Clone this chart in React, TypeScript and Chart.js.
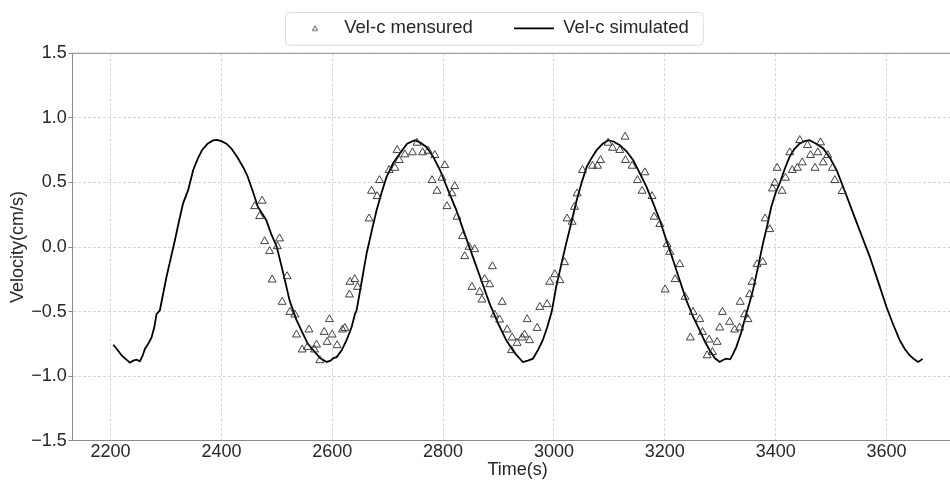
import React, { useEffect, useRef } from 'react';
import { Chart, registerables } from 'chart.js';

Chart.register(...registerables);

const measuredLabel = 'Vel-c mensured';
const simulatedLabel = 'Vel-c simulated';
const xTitle = 'Time(s)';
const yTitle = 'Velocity(cm/s)';

const simTime = [
  2205, 2213, 2220, 2228, 2235, 2241, 2247, 2253, 2258, 2262, 2268, 2274, 2279, 2283, 2289, 2295,
  2301, 2308, 2316, 2323, 2331, 2340, 2349, 2357, 2365, 2375, 2385, 2392, 2400, 2409, 2418, 2428,
  2439, 2447, 2454, 2466, 2481, 2490, 2500, 2512, 2523, 2535, 2547, 2556, 2566, 2578, 2590, 2597,
  2602, 2608, 2617, 2626, 2635, 2641, 2644, 2653, 2662, 2671, 2680, 2689, 2698, 2710, 2722, 2735,
  2749, 2758, 2770, 2782, 2794, 2809, 2824, 2839, 2854, 2869, 2884, 2899, 2914, 2929, 2944, 2953,
  2962, 2971, 2980, 2988, 2996, 3004, 3013, 3022, 3032, 3041, 3050, 3059, 3068, 3077, 3088, 3098,
  3108, 3119, 3131, 3143, 3155, 3167, 3179, 3191, 3203, 3215, 3227, 3239, 3251, 3263, 3272, 3281,
  3290, 3299, 3305, 3311, 3318, 3323, 3329, 3338, 3347, 3353, 3359, 3368, 3377, 3385, 3392, 3400,
  3407, 3416, 3425, 3434, 3443, 3452, 3461, 3473, 3486, 3498, 3510, 3525, 3540, 3555, 3570, 3585,
  3600, 3612, 3624, 3633, 3642, 3650, 3657, 3661, 3665,
];
const simVel = [
  -0.757, -0.80, -0.84, -0.87, -0.896, -0.88, -0.873, -0.885, -0.84, -0.79, -0.75, -0.70, -0.62, -0.52, -0.49, -0.36,
  -0.23, -0.10, 0.05, 0.19, 0.34, 0.44, 0.595, 0.68, 0.75, 0.80, 0.825, 0.83, 0.82, 0.80, 0.763, 0.70,
  0.62, 0.55, 0.465, 0.31, 0.207, 0.10, 0.0, -0.21, -0.413, -0.56, -0.67, -0.75, -0.80, -0.86, -0.89, -0.88,
  -0.86, -0.853, -0.80, -0.72, -0.62, -0.52, -0.49, -0.27, -0.05, 0.12, 0.284, 0.42, 0.543, 0.65, 0.724, 0.80,
  0.827, 0.81, 0.775, 0.70, 0.60, 0.44, 0.284, 0.10, -0.078, -0.26, -0.439, -0.59, -0.723, -0.82, -0.891, -0.88,
  -0.865, -0.80, -0.72, -0.62, -0.50, -0.31, -0.14, 0.026, 0.20, 0.362, 0.50, 0.62, 0.69, 0.75, 0.80, 0.827,
  0.815, 0.788, 0.74, 0.672, 0.57, 0.465, 0.34, 0.207, 0.05, -0.103, -0.26, -0.413, -0.54, -0.646, -0.73, -0.80,
  -0.86, -0.89, -0.875, -0.865, -0.87, -0.83, -0.775, -0.66, -0.516, -0.43, -0.336, -0.16, 0.026, 0.17, 0.31, 0.42,
  0.49, 0.60, 0.698, 0.76, 0.80, 0.82, 0.827, 0.80, 0.763, 0.69, 0.595, 0.43, 0.258, 0.09, -0.078, -0.27,
  -0.465, -0.60, -0.723, -0.79, -0.84, -0.87, -0.89, -0.88, -0.865,
];

const measTime = [
  2460, 2469, 2473.5, 2478, 2487, 2491.6, 2501, 2505, 2509.6, 2518.6, 2523.5, 2532.5, 2535.5, 2545.7, 2555.4, 2558,
  2568, 2571.6, 2577.6, 2585.4, 2590.8, 2595, 2599.8, 2608.8, 2618.5, 2622.7, 2631, 2632, 2640.7, 2645.6, 2666.5, 2670.9,
  2681, 2685.3, 2702.6, 2713, 2717, 2720.7, 2731, 2744.8, 2753, 2763, 2773, 2780, 2785, 2789, 2798, 2803,
  2807, 2816, 2821, 2825, 2835, 2839, 2847, 2852, 2857, 2866, 2870, 2875, 2884, 2889, 2893, 2902,
  2906.5, 2915.5, 2923.4, 2924.5, 2933.5, 2942.6, 2947, 2951.6, 2956, 2969.6, 2974.5, 2987.6, 2992.5, 3001.5, 3010.6, 3019,
  3023.7, 3032.8, 3037, 3041.8, 3051.5, 3069.5, 3078.6, 3084, 3097.7, 3105.6, 3118.8, 3128.4, 3129, 3141, 3150.7, 3159,
  3164, 3177, 3180.7, 3191, 3200.6, 3204, 3209, 3218.6, 3227, 3236.6, 3246, 3251, 3263, 3268, 3276.3, 3280,
  3286, 3294.4, 3299, 3304, 3317, 3326, 3335, 3336, 3344, 3350, 3353, 3357.5, 3366.5, 3376.8, 3381, 3389.4,
  3394.3, 3398.5, 3402.6, 3411.6, 3417.7, 3425.5, 3430, 3439, 3443.5, 3448, 3457.4, 3462.8, 3471, 3476, 3481, 3485.6,
  3494, 3502.5, 3506.7, 3520,
];
const measVel = [
  0.315, 0.238, 0.357, 0.044, -0.033, -0.253, 0.005, 0.065, -0.426, -0.227, -0.504, -0.524, -0.679, -0.795, -0.775, -0.64,
  -0.795, -0.757, -0.878, -0.659, -0.736, -0.56, -0.679, -0.762, -0.64, -0.628, -0.369, -0.271, -0.25, -0.31, 0.22, 0.434,
  0.393, 0.517, 0.595, 0.612, 0.75, 0.672, 0.716, 0.732, 0.806, 0.732, 0.744, 0.517, 0.711, 0.434, 0.535, 0.633,
  0.315, 0.414, 0.47, 0.233, 0.083, -0.072, 0.0, -0.31, -0.018, -0.349, -0.408, -0.25, -0.29, -0.15, -0.524, -0.563,
  -0.426, -0.64, -0.80, -0.702, -0.744, -0.702, -0.679, -0.56, -0.723, -0.628, -0.465, -0.444, -0.271, -0.212, -0.258, -0.119,
  0.22, 0.194, 0.31, 0.414, 0.595, 0.628, 0.628, 0.672, 0.806, 0.767, 0.75, 0.853, 0.672, 0.628, 0.517, 0.434,
  0.577, 0.393, 0.233, 0.176, -0.33, 0.021, -0.039, -0.25, -0.134, -0.387, -0.702, -0.504, -0.56, -0.659, -0.84, -0.718,
  -0.814, -0.736, -0.625, -0.504, -0.581, -0.64, -0.625, -0.426, -0.522, -0.56, -0.367, -0.271, -0.134, -0.116, 0.22, 0.137,
  0.452, 0.496, 0.612, 0.434, 0.535, 0.732, 0.595, 0.612, 0.827, 0.654, 0.788, 0.711, 0.612, 0.732, 0.809, 0.654,
  0.711, 0.612, 0.517, 0.432,
];

const xTickValues = [2200, 2400, 2600, 2800, 3000, 3200, 3400, 3600];
const yTickValues = [-1.5, -1.0, -0.5, 0.0, 0.5, 1.0, 1.5];
const yTickLabels = ['\u22121.5', '\u22121.0', '\u22120.5', '0.0', '0.5', '1.0', '1.5'];

const FONT = "'Liberation Sans', Arial, sans-serif";
const TEXT = '#262626';
const SPINE = '#8a8a8a';
const GRID = '#d6d6d6';

export default function App() {
  const ref = useRef<HTMLCanvasElement>(null);

  useEffect(() => {
    const canvas = ref.current;
    if (!canvas) return;

    const tri = document.createElement('canvas');
    tri.width = 10;
    tri.height = 10;
    const tctx = tri.getContext('2d');
    if (tctx) {
      tctx.strokeStyle = '#333';
      tctx.lineWidth = 0.8;
      tctx.beginPath();
      tctx.moveTo(5, 2.6);
      tctx.lineTo(2.4, 7.2);
      tctx.lineTo(7.6, 7.2);
      tctx.closePath();
      tctx.stroke();
    }

    const frame = {
      id: 'frame',
      afterLayout(chart: any) {
        const lg = chart.legend;
        if (!lg) return;
        const pad = lg.options.labels.padding;
        lg.left = 295 - pad;
        lg.right = lg.left + 1000;
        lg.top = 19.05 - pad;
        lg.bottom = 53;
      },
      afterDraw(chart: any) {
        const ctx = chart.ctx;
        const { left, right, top } = chart.chartArea;
        ctx.save();
        ctx.strokeStyle = SPINE;
        ctx.lineWidth = 1;
        ctx.setLineDash([]);
        ctx.beginPath();
        ctx.moveTo(left, top);
        ctx.lineTo(right, top);
        ctx.stroke();
        const hb = chart.legend && chart.legend.legendHitBoxes;
        if (hb && hb.length) {
          const last = hb[hb.length - 1];
          const l = hb[0].left - 10;
          const r = last.left + last.width + 14;
          const t = hb[0].top - 7;
          const b = hb[0].top + hb[0].height + 7.2;
          ctx.strokeStyle = '#dedede';
          ctx.lineWidth = 1;
          ctx.beginPath();
          (ctx as any).roundRect(l + 0.5, t + 0.5, r - l, b - t, 4);
          ctx.stroke();
        }
        ctx.restore();
      },
    };

    const chart = new Chart(canvas, {
      type: 'scatter',
      data: {
        datasets: [
          {
            label: measuredLabel,
            data: measTime.map((x, i) => ({ x, y: measVel[i] })),
            pointStyle: 'triangle',
            pointRadius: 4.6,
            pointHoverRadius: 4.6,
            pointBorderWidth: 0.9,
            pointBorderColor: '#2a2a2a',
            pointBackgroundColor: 'rgba(0,0,0,0)',
            borderColor: '#2a2a2a',
            backgroundColor: 'rgba(0,0,0,0)',
            showLine: false,
          },
          {
            label: simulatedLabel,
            data: simTime.map((x, i) => ({ x, y: simVel[i] })),
            showLine: true,
            borderColor: '#000000',
            backgroundColor: '#000000',
            borderWidth: 1.8,
            pointRadius: 0,
            pointHoverRadius: 0,
            pointStyle: 'line',
            fill: false,
            tension: 0,
          },
        ],
      },
      options: {
        responsive: false,
        animation: false,
        devicePixelRatio: 1,
        layout: { padding: { left: 0, right: 7, top: 0, bottom: 0 } },
        plugins: {
          tooltip: { enabled: false },
          legend: {
            display: true,
            position: 'top',
            align: 'start',
            maxHeight: 53.3,
            labels: {
              usePointStyle: true,
              pointStyleWidth: 40,
              boxHeight: 4,
              padding: 41.25,
              color: TEXT,
              font: { family: FONT, size: 18.5 },
              sort: (a: any, b: any) => a.datasetIndex - b.datasetIndex,
              generateLabels: (c: any) => {
                const items = (Chart.defaults as any).plugins.legend.labels.generateLabels(c);
                items.sort((a: any, b: any) => a.datasetIndex - b.datasetIndex);
                items.forEach((it: any) => {
                  if (it.datasetIndex === 0) {
                    it.pointStyle = tri;
                  } else {
                    it.pointStyle = 'line';
                    it.lineWidth = 1.8;
                    it.strokeStyle = '#000';
                  }
                });
                return items;
              },
            },
          },
        },
        scales: {
          x: {
            type: 'linear',
            min: 2131,
            max: 3738,
            afterFit: (s: any) => { s.height = 40.3; },
            afterBuildTicks: (s: any) => { s.ticks = xTickValues.map((v) => ({ value: v })); },
            ticks: {
              color: TEXT,
              font: { family: FONT, size: 18 },
              padding: 1,
              maxRotation: 0,
              autoSkip: false,
              callback: (v: any) => String(v),
            },
            grid: { color: GRID, lineWidth: 1, drawTicks: false },
            border: { display: true, color: SPINE, width: 1, dash: [3, 2] },
            title: {
              display: true,
              text: xTitle,
              color: TEXT,
              font: { family: FONT, size: 18, lineHeight: 1.2 },
              padding: { top: 0, bottom: 0 },
            },
          },
          y: {
            type: 'linear',
            min: -1.5,
            max: 1.5,
            afterFit: (s: any) => { s.width = 72.3; },
            afterBuildTicks: (s: any) => { s.ticks = yTickValues.map((v) => ({ value: v })); },
            ticks: {
              color: TEXT,
              font: { family: FONT, size: 18 },
              padding: 1.5,
              autoSkip: false,
              callback: (v: any) => {
                const i = yTickValues.findIndex((t) => Math.abs(t - Number(v)) < 1e-9);
                return i >= 0 ? yTickLabels[i] : '';
              },
            },
            grid: {
              color: GRID,
              lineWidth: 1,
              drawTicks: true,
              tickLength: 4,
              tickColor: SPINE,
              tickWidth: 1,
              tickBorderDash: [],
            },
            border: { display: true, color: SPINE, width: 1, dash: [3, 2] },
            title: {
              display: true,
              text: yTitle,
              color: TEXT,
              font: { family: FONT, size: 18, lineHeight: 1.2 },
              padding: { top: 7.7, bottom: 0 },
            },
          },
        },
      },
      plugins: [frame],
    } as any);

    return () => chart.destroy();
  }, []);

  return (
    <div
      style={{
        position: 'fixed',
        left: 0,
        top: 0,
        width: 950,
        height: 481,
        overflow: 'hidden',
        background: '#ffffff',
      }}
    >
      <canvas ref={ref} width={970} height={481} style={{ display: 'block', width: 970, height: 481 }} />
    </div>
  );
}
